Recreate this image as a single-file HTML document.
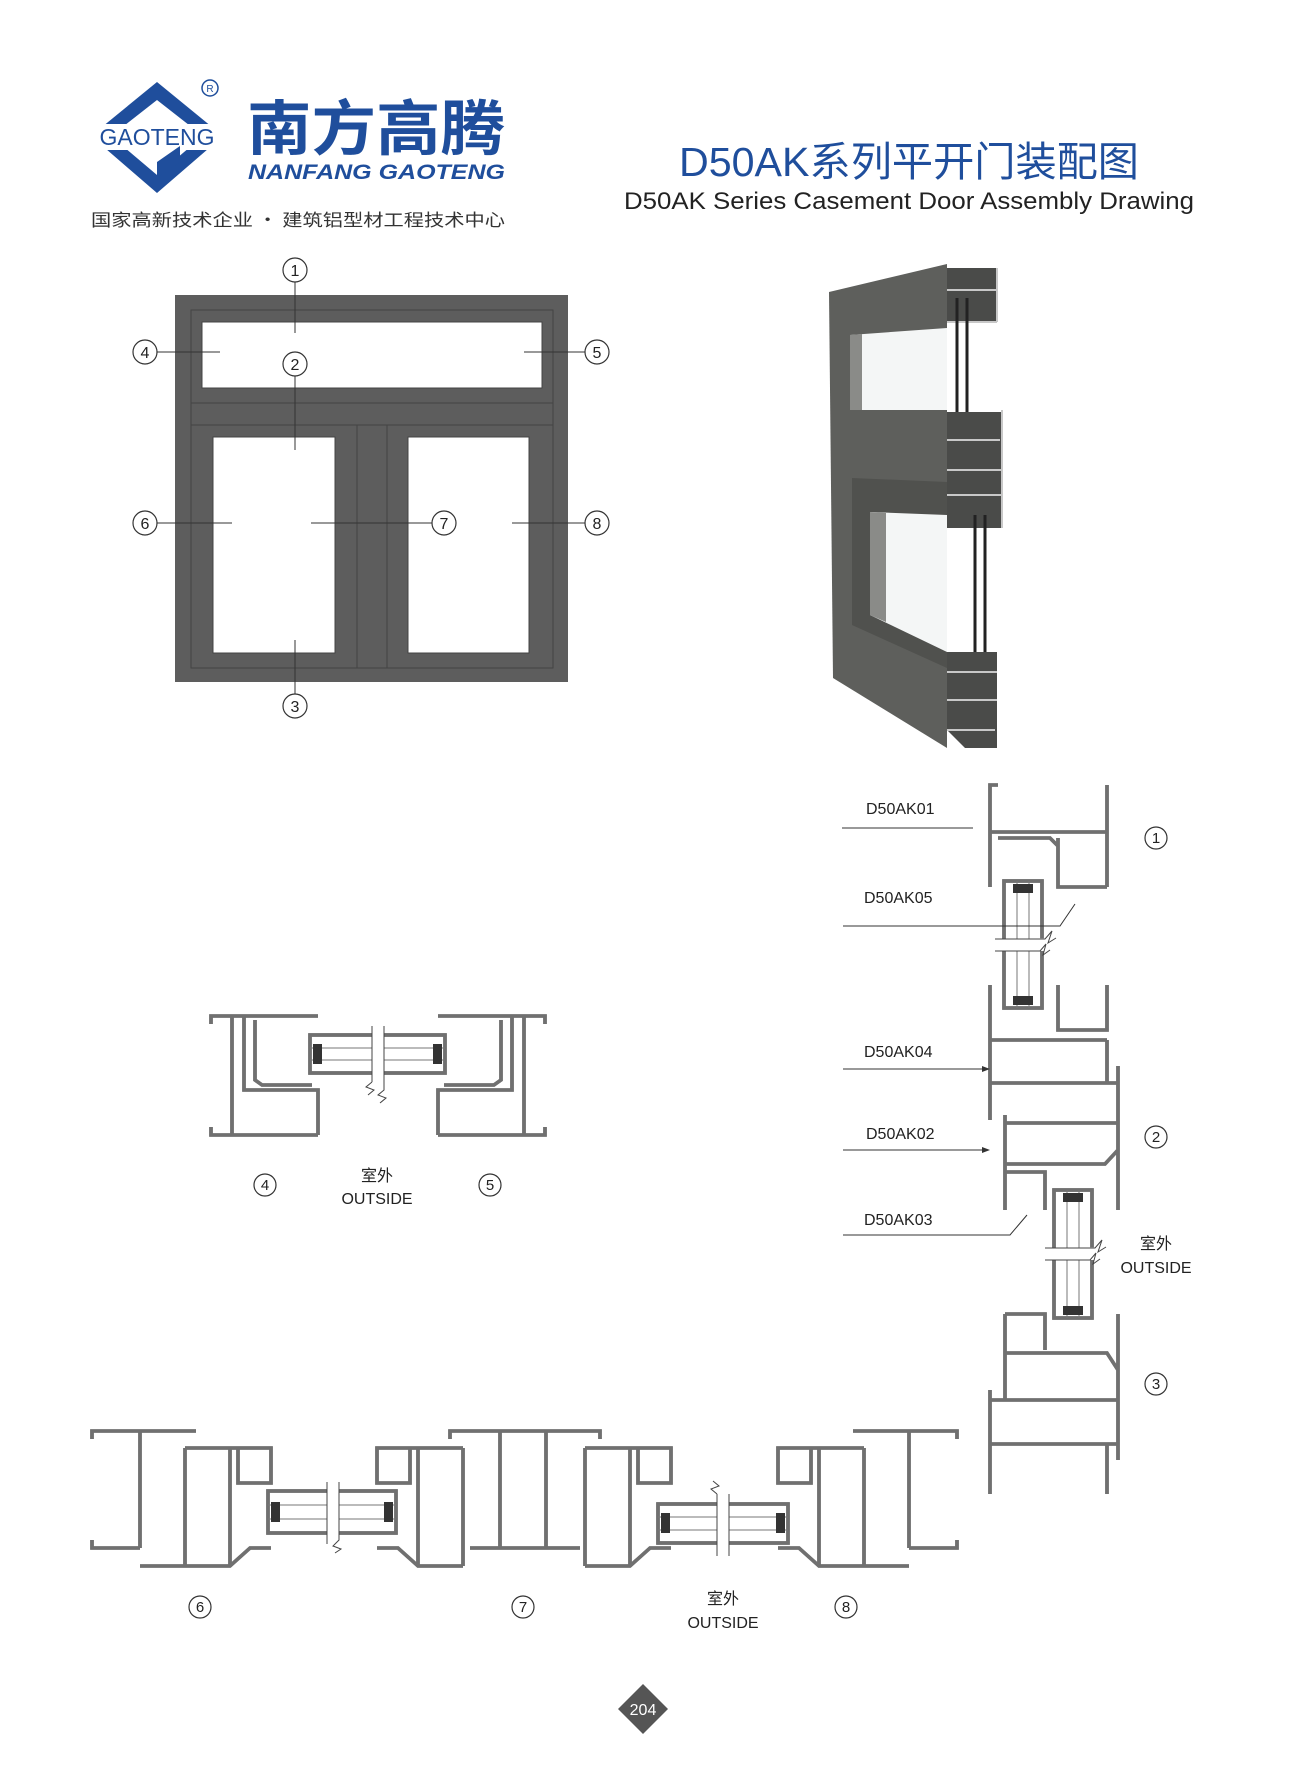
<!DOCTYPE html>
<html><head><meta charset="utf-8"><style>
html,body{margin:0;padding:0;background:#fff;}
body{width:1300px;height:1775px;position:relative;overflow:hidden;font-family:"Liberation Sans","Noto Sans CJK SC",sans-serif;}
svg{position:absolute;left:0;top:0;}
</style></head><body>
<svg width="1300" height="1775" viewBox="0 0 1300 1775" xmlns="http://www.w3.org/2000/svg">
<!-- Logo -->
<polygon points="157,82 223,136 157,193 91,136" fill="#1f4e9c"/>
<polygon points="157,100 203,136 157,175 111,136" fill="#fff"/>
<rect x="88" y="124" width="140" height="26" fill="#fff"/>
<polygon points="157,162 180,146 180,162 157,178" fill="#1f4e9c"/>
<text x="157" y="145" font-size="23" fill="#1f4e9c" text-anchor="middle" font-family="Liberation Sans">GAOTENG</text>
<circle cx="210" cy="88" r="8" fill="none" stroke="#1f4e9c" stroke-width="1.5"/>
<text x="210" y="92" font-size="10" fill="#1f4e9c" text-anchor="middle">R</text>
<text x="247" y="150" font-size="60" font-weight="bold" fill="#1f4e9c" font-family="Noto Sans CJK SC,sans-serif" textLength="258" lengthAdjust="spacingAndGlyphs">南方高腾</text>
<text x="248" y="179" font-size="21" font-weight="bold" font-style="italic" fill="#1f4e9c" textLength="257" lengthAdjust="spacingAndGlyphs">NANFANG GAOTENG</text>
<text x="91" y="226" font-size="17" fill="#333" font-family="Noto Sans CJK SC,sans-serif" textLength="414" lengthAdjust="spacingAndGlyphs">国家高新技术企业 • 建筑铝型材工程技术中心</text>
<!-- Title -->
<text x="679" y="176" font-size="41" fill="#1f4e9c" font-family="Liberation Sans,Noto Sans CJK SC,sans-serif" textLength="460" lengthAdjust="spacingAndGlyphs">D50AK系列平开门装配图</text>
<text x="624" y="209" font-size="24" fill="#222" textLength="570" lengthAdjust="spacingAndGlyphs">D50AK Series Casement Door Assembly Drawing</text>

<!-- Window elevation -->
<rect x="175" y="295" width="393" height="387" fill="#5d5d5d"/>
<rect x="191" y="310" width="362" height="358" fill="none" stroke="#444" stroke-width="1"/>
<line x1="191" y1="403" x2="553" y2="403" stroke="#444"/>
<line x1="191" y1="425" x2="553" y2="425" stroke="#444"/>
<line x1="357" y1="425" x2="357" y2="668" stroke="#444"/>
<line x1="387" y1="425" x2="387" y2="668" stroke="#444"/>
<rect x="202" y="322" width="340" height="66" fill="#fff" stroke="#444"/>
<rect x="213" y="437" width="122" height="216" fill="#fff" stroke="#444"/>
<rect x="408" y="437" width="121" height="216" fill="#fff" stroke="#444"/>
<g stroke="#333" stroke-width="1">
<line x1="295" y1="282" x2="295" y2="333"/>
<line x1="295" y1="376" x2="295" y2="450"/>
<line x1="295" y1="640" x2="295" y2="694"/>
<line x1="157" y1="352" x2="220" y2="352"/>
<line x1="524" y1="352" x2="585" y2="352"/>
<line x1="157" y1="523" x2="232" y2="523"/>
<line x1="311" y1="523" x2="432" y2="523"/>
<line x1="512" y1="523" x2="585" y2="523"/>
</g>
<g fill="#fff" stroke="#333" stroke-width="1.2">
<circle cx="295" cy="270" r="12"/><circle cx="295" cy="364" r="12"/><circle cx="295" cy="706" r="12"/>
<circle cx="145" cy="352" r="12"/><circle cx="597" cy="352" r="12"/>
<circle cx="145" cy="523" r="12"/><circle cx="444" cy="523" r="12"/><circle cx="597" cy="523" r="12"/>
</g>
<g font-size="16" fill="#222" text-anchor="middle">
<text x="295" y="276">1</text><text x="295" y="370">2</text><text x="295" y="712">3</text>
<text x="145" y="358">4</text><text x="597" y="358">5</text>
<text x="145" y="529">6</text><text x="444" y="529">7</text><text x="597" y="529">8</text>
</g>

<!-- 3D render -->
<polygon points="829,292 947,264 947,748 833,678" fill="#5e5f5c"/>
<polygon points="850,335 947,328 947,410 850,410" fill="#f4f6f6"/>
<polygon points="850,335 862,334 862,410 850,410" fill="#8a8b88"/>
<polygon points="852,478 947,482 947,668 852,625" fill="#50514e"/>
<polygon points="870,512 947,515 947,652 870,615" fill="#f4f6f6"/>
<polygon points="870,512 886,513 886,622 870,615" fill="#8a8b88"/>
<polygon points="947,268 997,268 997,322 947,322" fill="#4a4b49"/>
<polygon points="947,412 1002,412 1002,528 947,528" fill="#4a4b49"/>
<polygon points="947,652 997,652 997,748 965,748 947,730" fill="#4a4b49"/>
<g stroke="#c8c8c8" stroke-width="2" fill="none">
<path d="M947,290 H997 M947,322 H997 M997,268 V322"/>
<path d="M947,440 H1000 M947,470 H1002 M947,495 H1002 M1002,410 V528"/>
<path d="M947,672 H997 M947,700 H997 M947,730 H995"/>
</g>
<g stroke="#222" stroke-width="3">
<line x1="957" y1="298" x2="957" y2="412"/><line x1="967" y1="298" x2="967" y2="412"/>
<line x1="975" y1="515" x2="975" y2="652"/><line x1="985" y1="515" x2="985" y2="652"/>
</g>

<!-- Sections -->
<g fill="none" stroke="#707070" stroke-width="3.6" id="sec">
<path d="M211,1024 V1016 H318 M232,1016 V1135 M211,1127 V1135 H318 M244,1016 V1090 H318 V1135 M255,1020 V1080 L262,1085 H312"/>
<path d="M545,1024 V1016 H438 M524,1016 V1135 M545,1127 V1135 H438 M512,1016 V1090 H438 V1135 M501,1020 V1080 L494,1085 H444"/>
<path d="M998,785 H990 V887 M1107,785 V887 M990,832 H1107 M1058,838 V887 H1107 M998,838 H1050 L1058,846"/>
<path d="M990,985 V1120 M1058,985 V1030 H1107 V985 M990,1040 H1107 M990,1083 H1118 M1107,1040 V1083 M1118,1066 V1210 M1005,1115 V1210 M1005,1123 H1118 M1005,1164 H1105 L1118,1150 M1005,1172 H1045 V1210"/>
<path d="M1005,1314 H1045 V1350 M1005,1314 V1400 M1005,1353 H1107 L1118,1370 M1118,1314 V1460 M990,1400 H1118 M990,1444 H1118 M990,1390 V1494 M1107,1444 V1494"/>
<path d="M92,1439 V1431 H196 M140,1431 V1548 M92,1540 V1548 H140 M185,1448 V1566 M230,1448 V1566 M185,1448 H271 V1483 H238 V1448 M140,1566 H230 L250,1548 H271"/>
<path d="M463,1448 V1566 M418,1448 V1566 M463,1448 H377 V1483 H410 V1448 M463,1566 H418 L398,1548 H377"/>
<path d="M450,1439 V1431 H600 V1439 M500,1431 V1548 M546,1431 V1548 M470,1548 H580"/>
<path d="M585,1448 V1566 M630,1448 V1566 M585,1448 H671 V1483 H638 V1448 M585,1566 H630 L650,1548 H671"/>
<path d="M957,1439 V1431 H853 M909,1431 V1548 M957,1540 V1548 H909 M864,1448 V1566 M819,1448 V1566 M864,1448 H778 V1483 H811 V1448 M909,1566 H819 L799,1548 H778"/>
<rect x="310" y="1035" width="135" height="38"/>
<rect x="1004" y="881" width="38" height="127"/>
<rect x="1054" y="1190" width="38" height="128"/>
<rect x="268" y="1491" width="128" height="42"/>
<rect x="658" y="1504" width="130" height="39"/>
</g>
<use href="#sec" stroke="#f6f6f6" stroke-width="1.2"/>
<g fill="none" stroke="#777" stroke-width="1">
<line x1="310" y1="1048" x2="445" y2="1048"/><line x1="310" y1="1060" x2="445" y2="1060"/>
<line x1="1017" y1="881" x2="1017" y2="1008"/><line x1="1029" y1="881" x2="1029" y2="1008"/>
<line x1="1067" y1="1190" x2="1067" y2="1318"/><line x1="1079" y1="1190" x2="1079" y2="1318"/>
<line x1="268" y1="1505" x2="396" y2="1505"/><line x1="268" y1="1519" x2="396" y2="1519"/>
<line x1="658" y1="1517" x2="788" y2="1517"/><line x1="658" y1="1530" x2="788" y2="1530"/>
</g>
<g fill="#333">
<rect x="313" y="1044" width="9" height="20"/><rect x="433" y="1044" width="9" height="20"/>
<rect x="1013" y="884" width="20" height="9"/><rect x="1013" y="996" width="20" height="9"/>
<rect x="1063" y="1193" width="20" height="9"/><rect x="1063" y="1306" width="20" height="9"/>
<rect x="271" y="1502" width="9" height="20"/><rect x="384" y="1502" width="9" height="20"/>
<rect x="661" y="1513" width="9" height="20"/><rect x="776" y="1513" width="9" height="20"/>
</g>
<g fill="#fff" stroke="#444" stroke-width="1">
<rect x="372" y="1026" width="12" height="65" stroke="none"/>
<path d="M372,1026 V1082 M384,1026 V1090 L378,1095 L386,1098 L380,1103 M372,1082 L366,1087 L374,1090 L368,1095"/>
<rect x="995" y="939" width="55" height="12" stroke="none"/>
<path d="M995,939 H1045 L1052,931 L1048,943 L1056,938 M995,951 H1040 L1046,944 L1043,955 L1050,950"/>
<rect x="1045" y="1248" width="55" height="12" stroke="none"/>
<path d="M1045,1248 H1095 L1102,1240 L1098,1252 L1106,1247 M1045,1260 H1090 L1096,1253 L1093,1264 L1100,1259"/>
<rect x="327" y="1482" width="12" height="62" stroke="none"/>
<path d="M327,1482 V1544 M339,1482 V1540 L333,1546 L341,1549 L335,1553"/>
<rect x="717" y="1494" width="12" height="62" stroke="none"/>
<path d="M717,1494 V1556 M729,1494 V1556 M717,1494 L711,1489 L719,1486 L713,1481"/>
</g>
<g stroke="#333" stroke-width="1" fill="none">
<line x1="842" y1="828" x2="973" y2="828"/>
<path d="M843,926 H1060 L1075,904"/>
<line x1="843" y1="1069" x2="988" y2="1069"/>
<line x1="843" y1="1150" x2="988" y2="1150"/>
<path d="M843,1235 H1010 L1027,1215"/>
</g>
<g fill="#333">
<polygon points="990,1069 982,1066 982,1072"/>
<polygon points="990,1150 982,1147 982,1153"/>
</g>
<g font-size="16" fill="#222" font-family="Liberation Sans,Noto Sans CJK SC,sans-serif">
<text x="866" y="814">D50AK01</text>
<text x="864" y="903">D50AK05</text>
<text x="864" y="1057">D50AK04</text>
<text x="866" y="1139">D50AK02</text>
<text x="864" y="1225">D50AK03</text>
<g text-anchor="middle">
<text x="1156" y="1249">室外</text><text x="1156" y="1273">OUTSIDE</text>
<text x="377" y="1181">室外</text><text x="377" y="1204">OUTSIDE</text>
<text x="723" y="1604">室外</text><text x="723" y="1628">OUTSIDE</text>
</g>
</g>
<g fill="#fff" stroke="#333" stroke-width="1.2">
<circle cx="1156" cy="838" r="11"/><circle cx="1156" cy="1137" r="11"/><circle cx="1156" cy="1384" r="11"/>
<circle cx="265" cy="1185" r="11"/><circle cx="490" cy="1185" r="11"/>
<circle cx="200" cy="1607" r="11"/><circle cx="523" cy="1607" r="11"/><circle cx="846" cy="1607" r="11"/>
</g>
<g font-size="15" fill="#222" text-anchor="middle">
<text x="1156" y="843">1</text><text x="1156" y="1142">2</text><text x="1156" y="1389">3</text>
<text x="265" y="1190">4</text><text x="490" y="1190">5</text>
<text x="200" y="1612">6</text><text x="523" y="1612">7</text><text x="846" y="1612">8</text>
</g>
<polygon points="643,1684 668,1709 643,1734 618,1709" fill="#555"/>
<text x="643" y="1715" font-size="16" fill="#fff" text-anchor="middle">204</text>
</svg>
</body></html>
